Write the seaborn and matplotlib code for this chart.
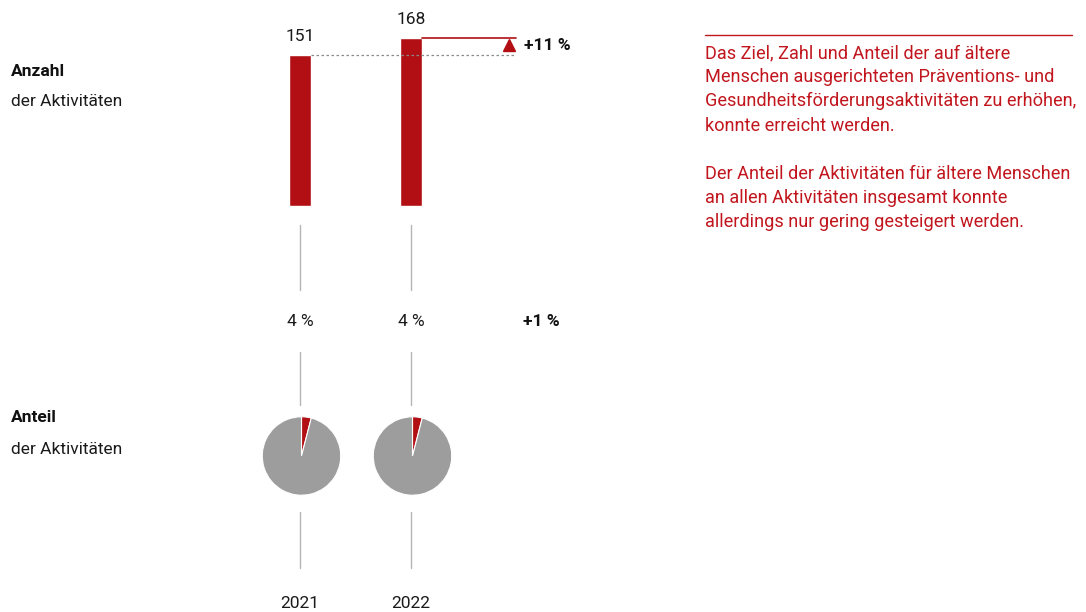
import matplotlib
matplotlib.use("Agg")
import matplotlib.pyplot as plt
import matplotlib.transforms as mtransforms
from matplotlib.lines import Line2D
import pandas as pd
import seaborn as sns

years = ["2021", "2022"]
anzahl = [151, 168]
anteil = [4, 4]
change_anzahl = "+11 %"
change_anteil = "+1 %"
text_lines = [
    "Das Ziel, Zahl und Anteil der auf ältere",
    "Menschen ausgerichteten Präventions- und",
    "Gesundheitsförderungsaktivitäten zu erhöhen,",
    "konnte erreicht werden.",
    "",
    "Der Anteil der Aktivitäten für ältere Menschen",
    "an allen Aktivitäten insgesamt konnte",
    "allerdings nur gering gesteigert werden.",
]

RED = "#b20f14"
TXT_RED = "#c1161e"
GREY = "#9d9d9d"
LINE_GREY = "#b5b5b5"

sns.set_style("white")
plt.rcParams["font.family"] = ["Roboto", "DejaVu Sans"]

W, H = 1086, 612
fig = plt.figure(figsize=(W / 100, H / 100), dpi=100)


def fx(px):
    return px / W


def fy(py):
    return 1 - py / H


# --- bar chart of counts ---
step = 111.0
x0 = 300.0
xmin, xmax = -0.5, 2.3
ax = fig.add_axes([fx(x0 + xmin * step), fy(206), (xmax - xmin) * step / W, 200 / H])
df = pd.DataFrame({"Jahr": years, "Anzahl": anzahl})
sns.barplot(data=df, x="Jahr", y="Anzahl", color=RED, width=0.207,
            saturation=1, ax=ax)
ax.set_xlim(xmin, xmax)
ax.set_ylim(0, 200)
ax.axis("off")
for i, v in enumerate(anzahl):
    ax.annotate(str(v), (i, v), xytext=(0, 8), textcoords="offset points",
                ha="center", va="bottom", fontsize=12.5, color="#1a1a1a")
half = 0.207 / 2
ax.plot([half, 1.946], [anzahl[0]] * 2, color="#8a8a8a", lw=0.9,
        ls=(0, (2, 2)))
ax.plot([1 + half, 1.946], [anzahl[1]] * 2, color=RED, lw=1.2)
mid = (anzahl[0] + anzahl[1]) / 2
ax.plot(1.883, mid + 1.5, marker="^", ms=8.5, color=RED, mec=RED)
ax.text(2.018, mid + 1.5, change_anzahl, ha="left", va="center",
        fontsize=12.5, fontweight="bold", color="#111111")

# connector lines tied to category positions
blend = mtransforms.blended_transform_factory(ax.transData, fig.transFigure)
for i in range(len(years)):
    for a, b in [(225, 290), (352, 405), (512, 568)]:
        fig.add_artist(Line2D([i, i], [fy(a), fy(b)], transform=blend,
                              color=LINE_GREY, lw=1))
    ax.text(i, fy(322), f"{anteil[i]} %", transform=blend, ha="center",
            va="center", fontsize=12.5, color="#1a1a1a")
    ax.text(i, fy(603), years[i], transform=blend, ha="center",
            va="center", fontsize=12.5, color="#1a1a1a")
ax.text(1 + (541 - 411) / step, fy(322), change_anteil, transform=blend,
        ha="center", va="center", fontsize=12.5, fontweight="bold",
        color="#111111")

# --- pies of share ---
r = 40
for i, share in enumerate(anteil):
    cx = x0 + i * step + 1.5
    pax = fig.add_axes([fx(cx - r), fy(456 + r), 2 * r / W, 2 * r / H])
    pax.pie([share, 100 - share], colors=[RED, GREY], startangle=90,
            counterclock=False, radius=1,
            wedgeprops=dict(edgecolor="white", linewidth=0.8))
    pax.set_xlim(-1.02, 1.02)
    pax.set_ylim(-1.02, 1.02)
    pax.set_aspect("auto")
    pax.axis("off")

# --- left labels ---
fig.text(fx(11), fy(72), "Anzahl", fontsize=12.5, fontweight="bold",
         va="center", color="#111111")
fig.text(fx(11), fy(101), "der Aktivitäten", fontsize=12.5, va="center",
         color="#1a1a1a")
fig.text(fx(11), fy(418), "Anteil", fontsize=12.5, fontweight="bold",
         va="center", color="#111111")
fig.text(fx(11), fy(449), "der Aktivitäten", fontsize=12.5, va="center",
         color="#1a1a1a")

# --- right commentary ---
fig.add_artist(Line2D([fx(705), fx(1072)], [fy(35), fy(35)],
                      transform=fig.transFigure, color=TXT_RED, lw=1))
for k, line in enumerate(text_lines):
    if line:
        fig.text(fx(705), fy(53 + k * 24.2), line, fontsize=13.1,
                 va="center", ha="left", color=TXT_RED)

fig.savefig("out.png", dpi=100)
